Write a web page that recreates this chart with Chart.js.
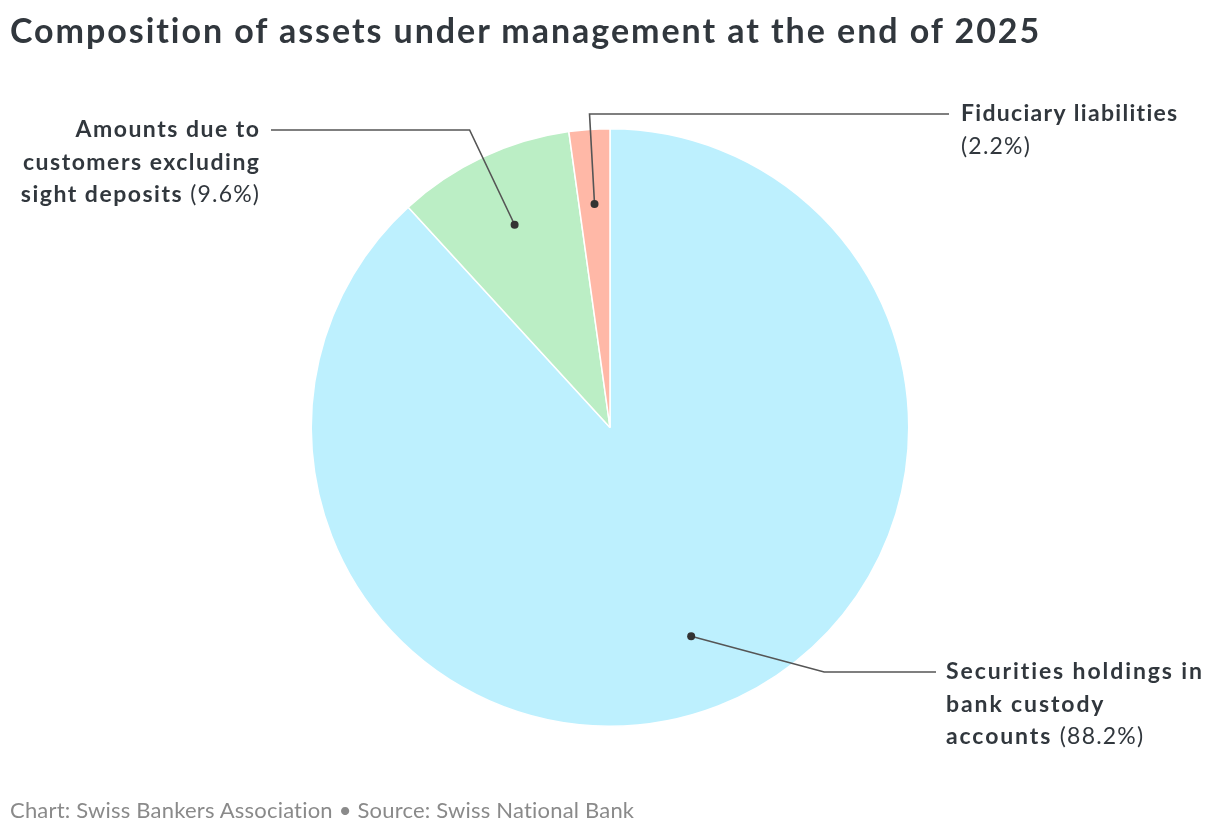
<!DOCTYPE html>
<html>
<head>
<meta charset="utf-8">
<script src="https://cdn.jsdelivr.net/npm/chart.js@4/dist/chart.umd.min.js"></script>
<style>
  html, body { margin: 0; padding: 0; background: #fff; }
  #wrap { position: relative; width: 1220px; height: 836px; }
  h1 {
    position: absolute; left: 10px; top: 9px; margin: 0;
    font-family: Lato, sans-serif; font-weight: 700; font-size: 34px;
    letter-spacing: 1.95px; color: #31373d; white-space: nowrap;
  }
  .footer {
    position: absolute; left: 10px; top: 796px;
    font-family: Lato, sans-serif; font-size: 22px; letter-spacing: 0.2px;
    color: #8a8a8a; white-space: nowrap;
  }
  canvas { position: absolute; left: 0; top: 0; }
</style>
</head>
<body>
<div id="wrap">
  <canvas id="pieChart" width="1220" height="836"></canvas>
  <h1>Composition of assets under management at the end of 2025</h1>
  <div class="footer">Chart: Swiss Bankers Association • Source: Swiss National Bank</div>
</div>
<script>
// Data
const categories = [
    'Securities holdings in bank custody accounts',
    'Amounts due to customers excluding sight deposits',
    'Fiduciary liabilities'
];
const shares = [88.2, 9.6, 2.2];
const sliceColors = ['#bdf0fe', '#bbeec5', '#ffb8a7'];

// Label text, split into lines: [bold part, regular part]
const labelLines = [
    [['Securities holdings in', ''], ['bank custody', ''], ['accounts ', '(88.2%)']],
    [['Amounts due to', ''], ['customers excluding', ''], ['sight deposits ', '(9.6%)']],
    [['Fiduciary liabilities', ''], ['', '(2.2%)']]
];

// Where each label sits and how its leader line bends
const labelLayout = [
    { x: 946, y: 672, align: 'left', elbowDx: 133, lineEnd: 936, spacing: 1.9 },
    { x: 259, y: 130, align: 'right', elbowDx: -45, lineEnd: 271, spacing: 1.5 },
    { x: 961, y: 114, align: 'left', elbowDx: -5, lineEnd: 949, spacing: 1.3 }
];

const TEXT_COLOR = '#31373d';
const LINE_HEIGHT = 32.5;
const LABEL_SIZE = 23;
const NORMAL_SPACING = 1.2;

/**
 * Draw leader lines and labels for each slice
 */
const calloutPlugin = {
    id: 'callouts',
    afterDraw(chart) {
        const ctx = chart.ctx;
        const arcs = chart.getDatasetMeta(0).data;
        arcs.forEach((arc, i) => {
            const mid = (arc.startAngle + arc.endAngle) / 2;
            const r = arc.outerRadius * 0.75;
            const dotX = arc.x + Math.cos(mid) * r;
            const dotY = arc.y + Math.sin(mid) * r;
            const lay = labelLayout[i];
            const elbowX = dotX + lay.elbowDx;

            ctx.save();
            ctx.strokeStyle = '#555';
            ctx.lineWidth = 1.6;
            ctx.beginPath();
            ctx.moveTo(dotX, dotY);
            ctx.lineTo(elbowX, lay.y);
            ctx.lineTo(lay.lineEnd, lay.y);
            ctx.stroke();

            ctx.fillStyle = '#333';
            ctx.beginPath();
            ctx.arc(dotX, dotY, 4, 0, Math.PI * 2);
            ctx.fill();

            // Text
            ctx.fillStyle = TEXT_COLOR;
            ctx.textBaseline = 'middle';
            ctx.textAlign = 'left';
            const boldFont = `700 ${LABEL_SIZE}px Lato, sans-serif`;
            const normFont = `400 ${LABEL_SIZE}px Lato, sans-serif`;
            labelLines[i].forEach((parts, j) => {
                const y = lay.y + j * LINE_HEIGHT;
                ctx.font = boldFont;
                ctx.letterSpacing = lay.spacing + 'px';
                const wb = ctx.measureText(parts[0]).width;
                ctx.font = normFont;
                ctx.letterSpacing = NORMAL_SPACING + 'px';
                const wn = ctx.measureText(parts[1]).width;
                // trailing spacing is not visible, so drop it when right-aligning
                const trail = parts[1] ? NORMAL_SPACING : lay.spacing;
                let x = lay.align === 'right' ? lay.x - wb - wn + trail : lay.x;
                ctx.font = boldFont;
                ctx.letterSpacing = lay.spacing + 'px';
                ctx.fillText(parts[0], x, y);
                ctx.font = normFont;
                ctx.letterSpacing = NORMAL_SPACING + 'px';
                ctx.fillText(parts[1], x + wb, y);
            });
            ctx.restore();
        });
    }
};

const ctx = document.getElementById('pieChart').getContext('2d');
new Chart(ctx, {
    type: 'pie',
    data: {
        labels: categories,
        datasets: [{
            data: shares,
            backgroundColor: sliceColors,
            borderColor: '#ffffff',
            borderWidth: 1.5
        }]
    },
    options: {
        responsive: false,
        animation: false,
        layout: { padding: { top: 128, bottom: 109, left: 300, right: 300 } },
        plugins: {
            legend: { display: false },
            tooltip: { enabled: false }
        }
    },
    plugins: [calloutPlugin]
});
</script>
</body>
</html>
